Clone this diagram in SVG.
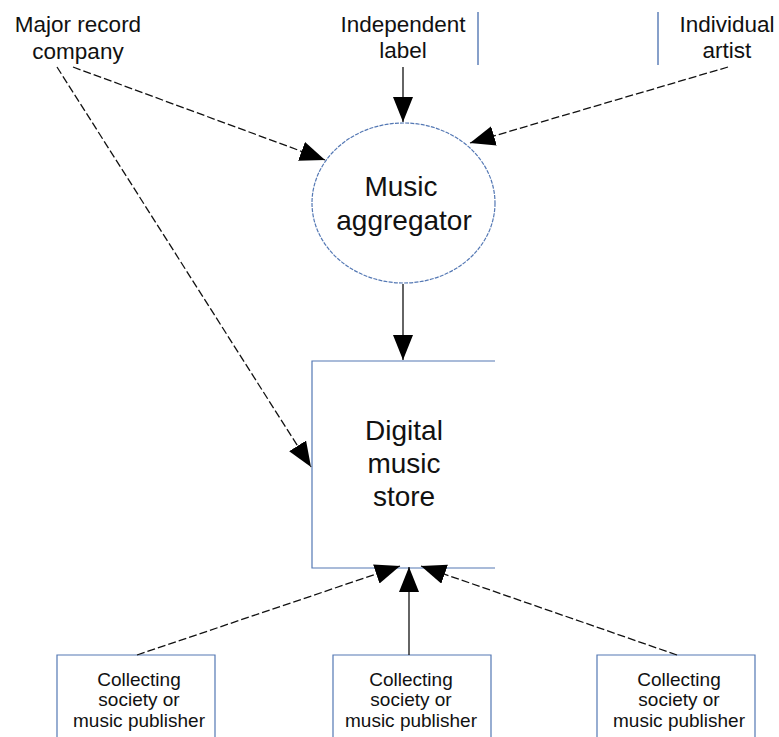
<svg xmlns="http://www.w3.org/2000/svg" width="779" height="737" viewBox="0 0 779 737">
<style>
text{font-family:"Liberation Sans",Arial,sans-serif;fill:#111;text-anchor:middle}
.big{font-size:28px}
.top{font-size:22.5px}
.small{font-size:19px}
.node{fill:#fff;stroke:#5478b4;stroke-width:1.2}
.solid{stroke:#111;stroke-width:1.3;fill:none;marker-end:url(#ah)}
.dash{stroke:#111;stroke-width:1.3;fill:none;stroke-dasharray:8,3;marker-end:url(#ah)}
.sep{stroke:#5478b4;stroke-width:1.4}
</style>
<defs>
<marker id="ah" markerUnits="userSpaceOnUse" markerWidth="28" markerHeight="22" refX="25" refY="10" orient="auto">
<path d="M0,0 L25,10 L0,20 z" fill="#000"/>
</marker>
</defs>
<rect width="779" height="737" fill="#fff"/>
<g id="major">
<text class="top" x="78" y="32">Major record</text>
<text class="top" x="78" y="59">company</text>
</g>
<g id="independent">
<text class="top" x="403" y="32">Independent</text>
<text class="top" x="403" y="58">label</text>
<line class="sep" x1="478" y1="12" x2="478" y2="65"/>
</g>
<g id="individual">
<line class="sep" x1="658" y1="12" x2="658" y2="65"/>
<text class="top" x="727" y="32">Individual</text>
<text class="top" x="727" y="58">artist</text>
</g>
<g id="aggregator">
<ellipse class="node" cx="403.5" cy="203" rx="91.5" ry="80" stroke-dasharray="4,1.2"/>
<text class="big" x="401" y="196">Music</text>
<text class="big" x="404" y="230">aggregator</text>
</g>
<g id="store">
<rect x="312" y="361" width="183" height="207" fill="#fff"/>
<path class="node" fill="none" d="M495,361 H312 V568 H495"/>
<text class="big" x="404" y="440">Digital</text>
<text class="big" x="404" y="473">music</text>
<text class="big" x="404" y="506">store</text>
</g>
<g id="pub1">
<path class="node" d="M57,737 V655 H215 V737"/>
<text class="small" x="139" y="686">Collecting</text>
<text class="small" x="139" y="706">society or</text>
<text class="small" x="139" y="727">music publisher</text>
</g>
<g id="pub2">
<path class="node" d="M333,737 V655 H491 V737"/>
<text class="small" x="411" y="686">Collecting</text>
<text class="small" x="411" y="706">society or</text>
<text class="small" x="411" y="727">music publisher</text>
</g>
<g id="pub3">
<path class="node" d="M597,737 V655 H755 V737"/>
<text class="small" x="679" y="686">Collecting</text>
<text class="small" x="679" y="706">society or</text>
<text class="small" x="679" y="727">music publisher</text>
</g>
<g id="connectors">
<line class="solid" x1="403" y1="67" x2="403" y2="122"/>
<line class="dash" x1="73" y1="67" x2="325" y2="160"/>
<line class="dash" x1="57" y1="67" x2="311" y2="467"/>
<line class="dash" x1="728" y1="67" x2="470" y2="143"/>
<line class="solid" x1="403" y1="284" x2="403" y2="360"/>
<line class="dash" x1="137" y1="655" x2="400" y2="566"/>
<line class="solid" x1="409" y1="655" x2="409" y2="567"/>
<line class="dash" x1="677" y1="655" x2="421" y2="566"/>
</g>
</svg>
